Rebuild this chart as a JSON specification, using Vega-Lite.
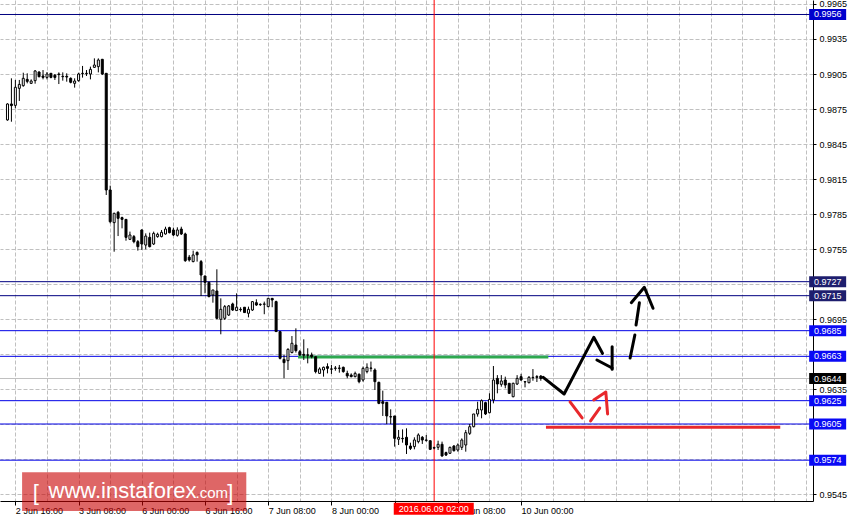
{
"$schema":"https://vega.github.io/schema/vega-lite/v6.json",
"width":813,"height":501,
"autosize":{"type":"none"},
"padding":{"left":0,"top":0,"right":46,"bottom":23},
"background":"white",
"view":{"stroke":null},
"datasets":{
"candles":[
{"n":0,"o":0.98656,"h":0.98799,"l":0.98650,"c":0.98793},
{"n":1,"o":0.98793,"h":0.99013,"l":0.98641,"c":0.98779},
{"n":2,"o":0.98781,"h":0.98999,"l":0.98756,"c":0.98936},
{"n":3,"o":0.98927,"h":0.98999,"l":0.98819,"c":0.98961},
{"n":4,"o":0.98950,"h":0.99061,"l":0.98941,"c":0.99013},
{"n":5,"o":0.99004,"h":0.99056,"l":0.98970,"c":0.98987},
{"n":6,"o":0.98970,"h":0.99004,"l":0.98964,"c":0.98990},
{"n":7,"o":0.98993,"h":0.99084,"l":0.98967,"c":0.99076},
{"n":8,"o":0.99067,"h":0.99073,"l":0.99021,"c":0.99027},
{"n":9,"o":0.99033,"h":0.99084,"l":0.99004,"c":0.99021},
{"n":10,"o":0.99021,"h":0.99067,"l":0.99004,"c":0.99050},
{"n":11,"o":0.99056,"h":0.99056,"l":0.99013,"c":0.99021},
{"n":12,"o":0.99039,"h":0.99050,"l":0.98999,"c":0.99021},
{"n":13,"o":0.99050,"h":0.99064,"l":0.98964,"c":0.99045},
{"n":14,"o":0.99030,"h":0.99064,"l":0.98993,"c":0.99027},
{"n":15,"o":0.99030,"h":0.99056,"l":0.98984,"c":0.99024},
{"n":16,"o":0.99013,"h":0.99021,"l":0.98970,"c":0.98979},
{"n":17,"o":0.98970,"h":0.99013,"l":0.98933,"c":0.98990},
{"n":18,"o":0.98993,"h":0.99061,"l":0.98984,"c":0.99050},
{"n":19,"o":0.99053,"h":0.99119,"l":0.99019,"c":0.99056},
{"n":20,"o":0.99053,"h":0.99084,"l":0.99033,"c":0.99056},
{"n":21,"o":0.99050,"h":0.99113,"l":0.99004,"c":0.99090},
{"n":22,"o":0.99107,"h":0.99184,"l":0.99104,"c":0.99127},
{"n":23,"o":0.99113,"h":0.99184,"l":0.99064,"c":0.99170},
{"n":24,"o":0.99176,"h":0.99179,"l":0.99041,"c":0.99050},
{"n":25,"o":0.99056,"h":0.99056,"l":0.98013,"c":0.98056},
{"n":26,"o":0.98056,"h":0.98093,"l":0.97770,"c":0.97784},
{"n":27,"o":0.97776,"h":0.97861,"l":0.97527,"c":0.97856},
{"n":28,"o":0.97864,"h":0.97876,"l":0.97661,"c":0.97813},
{"n":29,"o":0.97819,"h":0.97827,"l":0.97727,"c":0.97804},
{"n":30,"o":0.97804,"h":0.97804,"l":0.97621,"c":0.97650},
{"n":31,"o":0.97633,"h":0.97699,"l":0.97627,"c":0.97670},
{"n":32,"o":0.97656,"h":0.97670,"l":0.97599,"c":0.97613},
{"n":33,"o":0.97613,"h":0.97627,"l":0.97536,"c":0.97570},
{"n":34,"o":0.97713,"h":0.97719,"l":0.97542,"c":0.97593},
{"n":35,"o":0.97584,"h":0.97684,"l":0.97547,"c":0.97661},
{"n":36,"o":0.97650,"h":0.97690,"l":0.97564,"c":0.97570},
{"n":37,"o":0.97593,"h":0.97699,"l":0.97584,"c":0.97684},
{"n":38,"o":0.97656,"h":0.97690,"l":0.97647,"c":0.97676},
{"n":39,"o":0.97656,"h":0.97713,"l":0.97650,"c":0.97693},
{"n":40,"o":0.97679,"h":0.97741,"l":0.97673,"c":0.97721},
{"n":41,"o":0.97733,"h":0.97741,"l":0.97684,"c":0.97690},
{"n":42,"o":0.97713,"h":0.97733,"l":0.97661,"c":0.97670},
{"n":43,"o":0.97667,"h":0.97736,"l":0.97656,"c":0.97713},
{"n":44,"o":0.97721,"h":0.97741,"l":0.97670,"c":0.97679},
{"n":45,"o":0.97679,"h":0.97690,"l":0.97440,"c":0.97450},
{"n":46,"o":0.97480,"h":0.97499,"l":0.97442,"c":0.97456},
{"n":47,"o":0.97442,"h":0.97536,"l":0.97436,"c":0.97499},
{"n":48,"o":0.97520,"h":0.97530,"l":0.97442,"c":0.97500},
{"n":49,"o":0.97442,"h":0.97456,"l":0.97147,"c":0.97327},
{"n":50,"o":0.97319,"h":0.97319,"l":0.97170,"c":0.97264},
{"n":51,"o":0.97264,"h":0.97264,"l":0.97136,"c":0.97142},
{"n":52,"o":0.97156,"h":0.97199,"l":0.97090,"c":0.97199},
{"n":53,"o":0.97190,"h":0.97376,"l":0.96947,"c":0.96956},
{"n":54,"o":0.96947,"h":0.97127,"l":0.96819,"c":0.97033},
{"n":55,"o":0.96956,"h":0.97070,"l":0.96942,"c":0.97056},
{"n":56,"o":0.96984,"h":0.97070,"l":0.96976,"c":0.97062},
{"n":57,"o":0.97079,"h":0.97090,"l":0.97019,"c":0.97027},
{"n":58,"o":0.97022,"h":0.97170,"l":0.97022,"c":0.97051},
{"n":59,"o":0.97033,"h":0.97051,"l":0.97013,"c":0.97030},
{"n":60,"o":0.97051,"h":0.97051,"l":0.97005,"c":0.97005},
{"n":61,"o":0.96999,"h":0.97056,"l":0.96964,"c":0.97033},
{"n":62,"o":0.97027,"h":0.97104,"l":0.97019,"c":0.97099},
{"n":63,"o":0.97090,"h":0.97119,"l":0.97062,"c":0.97070},
{"n":64,"o":0.97076,"h":0.97084,"l":0.97062,"c":0.97073},
{"n":65,"o":0.97076,"h":0.97099,"l":0.96991,"c":0.97079},
{"n":66,"o":0.97056,"h":0.97127,"l":0.97051,"c":0.97127},
{"n":67,"o":0.97127,"h":0.97130,"l":0.97051,"c":0.97113},
{"n":68,"o":0.97099,"h":0.97107,"l":0.96842,"c":0.96842},
{"n":69,"o":0.96842,"h":0.96842,"l":0.96604,"c":0.96613},
{"n":70,"o":0.96604,"h":0.96642,"l":0.96442,"c":0.96576},
{"n":71,"o":0.96593,"h":0.96699,"l":0.96513,"c":0.96690},
{"n":72,"o":0.96662,"h":0.96804,"l":0.96656,"c":0.96742},
{"n":73,"o":0.96727,"h":0.96870,"l":0.96662,"c":0.96679},
{"n":74,"o":0.96670,"h":0.96684,"l":0.96633,"c":0.96642},
{"n":75,"o":0.96647,"h":0.96776,"l":0.96599,"c":0.96639},
{"n":76,"o":0.96642,"h":0.96699,"l":0.96570,"c":0.96640},
{"n":77,"o":0.96642,"h":0.96662,"l":0.96613,"c":0.96627},
{"n":78,"o":0.96627,"h":0.96627,"l":0.96484,"c":0.96499},
{"n":79,"o":0.96484,"h":0.96536,"l":0.96479,"c":0.96522},
{"n":80,"o":0.96513,"h":0.96542,"l":0.96456,"c":0.96536},
{"n":81,"o":0.96542,"h":0.96570,"l":0.96484,"c":0.96527},
{"n":82,"o":0.96522,"h":0.96556,"l":0.96479,"c":0.96520},
{"n":83,"o":0.96527,"h":0.96547,"l":0.96507,"c":0.96530},
{"n":84,"o":0.96530,"h":0.96556,"l":0.96490,"c":0.96527},
{"n":85,"o":0.96536,"h":0.96542,"l":0.96490,"c":0.96499},
{"n":86,"o":0.96484,"h":0.96507,"l":0.96442,"c":0.96462},
{"n":87,"o":0.96470,"h":0.96484,"l":0.96450,"c":0.96456},
{"n":88,"o":0.96456,"h":0.96499,"l":0.96450,"c":0.96484},
{"n":89,"o":0.96476,"h":0.96484,"l":0.96399,"c":0.96413},
{"n":90,"o":0.96427,"h":0.96542,"l":0.96413,"c":0.96527},
{"n":91,"o":0.96499,"h":0.96570,"l":0.96484,"c":0.96536},
{"n":92,"o":0.96527,"h":0.96585,"l":0.96499,"c":0.96530},
{"n":93,"o":0.96513,"h":0.96527,"l":0.96342,"c":0.96413},
{"n":94,"o":0.96407,"h":0.96413,"l":0.96220,"c":0.96227},
{"n":95,"o":0.96241,"h":0.96336,"l":0.96119,"c":0.96227},
{"n":96,"o":0.96236,"h":0.96236,"l":0.96050,"c":0.96119},
{"n":97,"o":0.96113,"h":0.96176,"l":0.96050,"c":0.96110},
{"n":98,"o":0.96119,"h":0.96119,"l":0.95856,"c":0.95927},
{"n":99,"o":0.95919,"h":0.95999,"l":0.95870,"c":0.95936},
{"n":100,"o":0.95927,"h":0.96004,"l":0.95890,"c":0.95924},
{"n":101,"o":0.95936,"h":0.96013,"l":0.95793,"c":0.95870},
{"n":102,"o":0.95861,"h":0.95890,"l":0.95827,"c":0.95841},
{"n":103,"o":0.95856,"h":0.95936,"l":0.95833,"c":0.95913},
{"n":104,"o":0.95899,"h":0.95970,"l":0.95884,"c":0.95956},
{"n":105,"o":0.95936,"h":0.95947,"l":0.95879,"c":0.95913},
{"n":106,"o":0.95913,"h":0.95956,"l":0.95899,"c":0.95910},
{"n":107,"o":0.95907,"h":0.95907,"l":0.95827,"c":0.95833},
{"n":108,"o":0.95847,"h":0.95856,"l":0.95833,"c":0.95844},
{"n":109,"o":0.95850,"h":0.95907,"l":0.95827,"c":0.95876},
{"n":110,"o":0.95876,"h":0.95899,"l":0.95770,"c":0.95776},
{"n":111,"o":0.95805,"h":0.95813,"l":0.95776,"c":0.95784},
{"n":112,"o":0.95799,"h":0.95856,"l":0.95793,"c":0.95850},
{"n":113,"o":0.95861,"h":0.95870,"l":0.95813,"c":0.95822},
{"n":114,"o":0.95827,"h":0.95884,"l":0.95813,"c":0.95870},
{"n":115,"o":0.95850,"h":0.95927,"l":0.95827,"c":0.95913},
{"n":116,"o":0.95870,"h":0.95999,"l":0.95813,"c":0.95976},
{"n":117,"o":0.95970,"h":0.96050,"l":0.95956,"c":0.96027},
{"n":118,"o":0.96027,"h":0.96136,"l":0.96021,"c":0.96136},
{"n":119,"o":0.96136,"h":0.96241,"l":0.96113,"c":0.96176},
{"n":120,"o":0.96170,"h":0.96261,"l":0.96099,"c":0.96250},
{"n":121,"o":0.96233,"h":0.96241,"l":0.96127,"c":0.96136},
{"n":122,"o":0.96147,"h":0.96313,"l":0.96141,"c":0.96261},
{"n":123,"o":0.96256,"h":0.96547,"l":0.96227,"c":0.96427},
{"n":124,"o":0.96441,"h":0.96469,"l":0.96313,"c":0.96393},
{"n":125,"o":0.96390,"h":0.96469,"l":0.96370,"c":0.96419},
{"n":126,"o":0.96427,"h":0.96456,"l":0.96356,"c":0.96384},
{"n":127,"o":0.96399,"h":0.96399,"l":0.96307,"c":0.96313},
{"n":128,"o":0.96284,"h":0.96404,"l":0.96279,"c":0.96399},
{"n":129,"o":0.96393,"h":0.96469,"l":0.96384,"c":0.96441},
{"n":130,"o":0.96456,"h":0.96480,"l":0.96421,"c":0.96427},
{"n":131,"o":0.96413,"h":0.96413,"l":0.96364,"c":0.96410},
{"n":132,"o":0.96404,"h":0.96461,"l":0.96399,"c":0.96450},
{"n":133,"o":0.96450,"h":0.96521,"l":0.96421,"c":0.96447},
{"n":134,"o":0.96456,"h":0.96469,"l":0.96410,"c":0.96450},
{"n":135,"o":0.96461,"h":0.96469,"l":0.96421,"c":0.96440}
],
"levels":[
{"p":0.9956,"t":"A","lab":"0.9956"},
{"p":0.9727,"t":"B","lab":"0.9727"},
{"p":0.9715,"t":"B","lab":"0.9715"},
{"p":0.9685,"t":"C","lab":"0.9685"},
{"p":0.9663,"t":"C","lab":"0.9663"},
{"p":0.9644,"t":"D","lab":"0.9644"},
{"p":0.9625,"t":"C","lab":"0.9625"},
{"p":0.9605,"t":"C","lab":"0.9605"},
{"p":0.9574,"t":"C","lab":"0.9574"}
],
"zones":[
{"n":73.55,"n2":136.9,"p":0.96625,"t":"g"},
{"n":136.3,"n2":195.6,"p":0.96022,"t":"r"}
],
"draw":[
{"g":"a","t":"k","o":1,"n":135.6,"p":0.96450},
{"g":"a","t":"k","o":2,"n":140.9,"p":0.96307},
{"g":"a","t":"k","o":3,"n":148.4,"p":0.96793},
{"g":"a","t":"k","o":4,"n":150.6,"p":0.96656},
{"g":"b","t":"k","o":1,"n":149.2,"p":0.96599},
{"g":"b","t":"k","o":2,"n":153.05,"p":0.96530},
{"g":"c","t":"k","o":1,"n":153.05,"p":0.96713},
{"g":"c","t":"k","o":2,"n":153.05,"p":0.96519},
{"g":"d","t":"k","o":1,"n":157.6,"p":0.96616},
{"g":"d","t":"k","o":2,"n":158.8,"p":0.96813},
{"g":"e","t":"k","o":1,"n":159.1,"p":0.96899},
{"g":"e","t":"k","o":2,"n":159.95,"p":0.97090},
{"g":"f","t":"k","o":1,"n":157.9,"p":0.97090},
{"g":"f","t":"k","o":2,"n":161.2,"p":0.97222},
{"g":"f","t":"k","o":3,"n":163.4,"p":0.97042},
{"g":"r1","t":"r","o":1,"n":142.4,"p":0.96239},
{"g":"r1","t":"r","o":2,"n":145.45,"p":0.96102},
{"g":"r2","t":"r","o":1,"n":147.6,"p":0.96076},
{"g":"r2","t":"r","o":2,"n":149.9,"p":0.96187},
{"g":"r3","t":"r","o":1,"n":148.4,"p":0.96256},
{"g":"r3","t":"r","o":2,"n":151.45,"p":0.96324},
{"g":"r3","t":"r","o":3,"n":151.9,"p":0.96136}
]
},
"encoding":{
"x":{"type":"quantitative","scale":{"type":"linear","domain":[-0.625,202.625],"nice":false,"zero":false},
"axis":{"title":null,"orient":"bottom","values":[2,10,18,26,34,42,50,58,66,74,82,90,98,106,114,122,130,138,146,154,162,170,178,186,194,202],
"labelExpr":"datum.value==2?'2 Jun 16:00':datum.value==18?'3 Jun 08:00':datum.value==34?'6 Jun 00:00':datum.value==50?'6 Jun 16:00':datum.value==66?'7 Jun 08:00':datum.value==82?'8 Jun 00:00':datum.value==114?'9 Jun 08:00':datum.value==130?'10 Jun 00:00':''",
"labelAlign":"left","labelBaseline":"top","labelPadding":1,"labelFont":"Liberation Sans","labelFontSize":9,"labelColor":"#000000",
"tickSize":4,"tickColor":{"condition":{"test":"(datum.value-2)%16==0 && datum.value<=130","value":"#000000"},"value":"transparent"},
"grid":true,"gridColor":"#c0c0c0","gridDash":[4,2],"domainColor":"#000000"}},
"y":{"type":"quantitative","scale":{"type":"linear","domain":[0.953901,0.9968427],"nice":false,"zero":false},
"axis":{"title":null,"orient":"right","values":[0.9545,0.9575,0.9605,0.9635,0.9665,0.9695,0.9725,0.9755,0.9785,0.9815,0.9845,0.9875,0.9905,0.9935,0.9965],
"labelExpr":"indexof(['0.9725','0.9665','0.9605','0.9575'], format(datum.value,'.4f'))>=0 ? '' : format(datum.value,'.4f')",
"tickSize":3,"labelPadding":3,"labelFont":"Liberation Sans","labelFontSize":9,"labelColor":"#000000","tickColor":"#000000",
"grid":true,"gridColor":"#c0c0c0","gridDash":[4,2],"domainColor":"#000000"}},
"stroke":{"type":"nominal","scale":{"domain":["A","B","C","D","g","r","k"],"range":["#000080","#000080","#0000e6","#c0c0c0","#2ea84f","#e8282c","#000000"]},"legend":null}
},
"layer":[
{
"data":{"name":"levels"},
"mark":{"type":"rule","strokeWidth":1},
"encoding":{"y":{"field":"p"},"stroke":{"field":"t"}}
},
{
"data":{"name":"zones"},
"mark":{"type":"rule","strokeWidth":3},
"encoding":{"x":{"field":"n"},"x2":{"field":"n2"},"y":{"field":"p"},"stroke":{"field":"t"}}
},
{
"data":{"values":[{}]},
"mark":{"type":"rule","strokeWidth":1,"color":"#ff0000"},
"encoding":{"x":{"datum":108}}
},
{
"data":{"name":"candles"},
"mark":{"type":"rule","strokeWidth":1,"color":"#000000"},
"encoding":{"x":{"field":"n"},"y":{"field":"l"},"y2":{"field":"h"}}
},
{
"data":{"name":"candles"},
"mark":{"type":"bar","size":2,"stroke":"#000000","strokeWidth":1},
"encoding":{"x":{"field":"n"},"y":{"field":"o"},"y2":{"field":"c"},
"fill":{"condition":{"test":"datum.c >= datum.o","value":"#ffffff"},"value":"#000000"}}
},
{
"data":{"name":"draw"},
"mark":{"type":"line","strokeWidth":3,"strokeCap":"round","strokeJoin":"round"},
"encoding":{"x":{"field":"n"},"y":{"field":"p"},"detail":{"field":"g","type":"nominal"},"order":{"field":"o","type":"quantitative"},"stroke":{"field":"t"}}
},
{
"data":{"name":"levels"},
"mark":{"type":"tick","orient":"horizontal","size":37,"thickness":11,"opacity":1},
"encoding":{"x":{"datum":207.6},"y":{"field":"p"},
"fill":{"field":"t","type":"nominal","scale":{"domain":["A","B","C","D"],"range":["#0000cd","#1e1e6e","#0a0af5","#000000"]},"legend":null}}
},
{
"data":{"name":"levels"},
"mark":{"type":"text","color":"#ffffff","font":"Liberation Sans","fontSize":9,"align":"center","baseline":"middle"},
"encoding":{"x":{"datum":207.6},"y":{"field":"p"},"text":{"field":"lab","type":"nominal"}}
},
{
"data":{"values":[{}]},
"mark":{"type":"tick","orient":"horizontal","size":80,"thickness":12,"opacity":1,"color":"#ff0000"},
"encoding":{"x":{"datum":107.9},"y":{"datum":0.95323}}
},
{
"data":{"values":[{}]},
"mark":{"type":"text","color":"#ffffff","font":"Liberation Sans","fontSize":9,"align":"center","baseline":"middle","text":"2016.06.09 02:00"},
"encoding":{"x":{"datum":107.9},"y":{"datum":0.95323}}
},
{
"data":{"values":[{}]},
"mark":{"type":"rect","color":"#c80000","opacity":0.6},
"encoding":{"x":{"datum":3.7},"x2":{"datum":60.45},"y":{"datum":0.95636},"y2":{"datum":0.95304}}
},
{
"data":{"values":[{}]},
"mark":{"type":"text","color":"#ffffff","font":"Liberation Sans","fontSize":22,"align":"left","baseline":"alphabetic","text":"www.instaforex"},
"encoding":{"x":{"datum":10.4},"y":{"datum":0.95416}}
},
{
"data":{"values":[{}]},
"mark":{"type":"text","color":"#ffffff","font":"Liberation Sans","fontSize":15,"align":"left","baseline":"alphabetic","text":".com"},
"encoding":{"x":{"datum":47.6},"y":{"datum":0.95416}}
},
{
"data":{"values":[{}]},
"mark":{"type":"text","color":"#ffffff","font":"Liberation Sans","fontSize":22,"align":"left","baseline":"alphabetic","text":"["},
"encoding":{"x":{"datum":6.4},"y":{"datum":0.95400}}
},
{
"data":{"values":[{}]},
"mark":{"type":"text","color":"#ffffff","font":"Liberation Sans","fontSize":22,"align":"left","baseline":"alphabetic","text":"]"},
"encoding":{"x":{"datum":55.6},"y":{"datum":0.95400}}
}
]
}
